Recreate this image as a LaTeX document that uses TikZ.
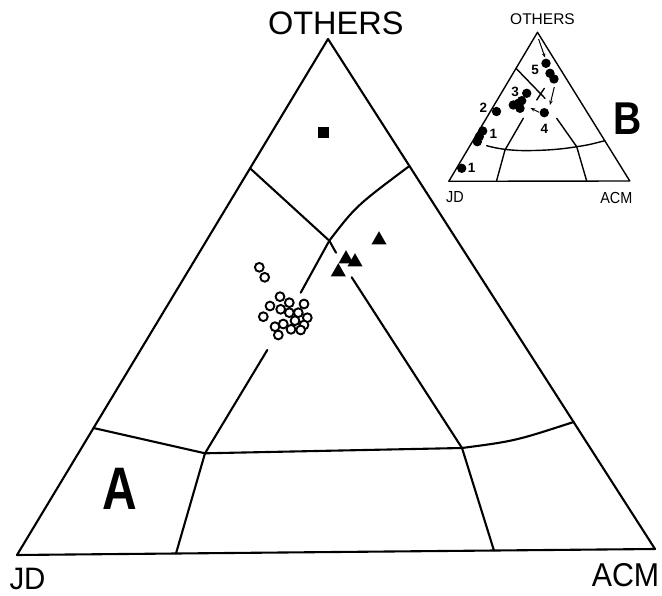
\documentclass[tikz,border=0pt]{standalone}
\usepackage{fontspec}
\setmainfont{Liberation Sans}
\usetikzlibrary{arrows.meta,calc}
\begin{document}
\begin{tikzpicture}[x=1pt,y=-1pt,
  edge/.style={line width=2.1pt, line cap=round, line join=round},
  iedge/.style={line width=1.4pt, line cap=round, line join=round},
  opencirc/.style={draw, line width=1.9pt, fill=white},
  lab/.style={inner sep=0pt},
  iarrow/.style={line width=1pt, -{Stealth[length=4.5pt,width=3.5pt]}}]
\useasboundingbox (0,0) rectangle (662,596);
% ---------- main triangle ----------
\coordinate (JD) at (17,555);
\coordinate (ACM) at (655,549);
\coordinate (OT) at (328,39);
\draw[edge] (JD) -- (OT) -- (ACM) -- cycle;
% points on edges
\coordinate (Lt) at ($(JD)!0.7494!(OT)$);
\coordinate (Lb) at ($(JD)!0.2461!(OT)$);
\coordinate (Rt) at ($(OT)!0.249!(ACM)$);
\coordinate (Rb) at ($(OT)!0.751!(ACM)$);
\coordinate (Bl) at ($(JD)!0.2492!(ACM)$);
\coordinate (Br) at ($(JD)!0.7476!(ACM)$);
% inner junctions
\coordinate (X) at (329.3,240.7);
\coordinate (Jl) at (205,453.3);
\coordinate (Jr) at (462,448);
% boundaries
\draw[edge] (Lt) -- (X) -- (336,252.7);
\draw[edge] (Rt) .. controls (356,206) .. (X) -- (300.7,292.7);
\draw[edge] (267.3,350) -- (Jl);
\draw[edge] (351.7,277.3) -- (Jr);
\draw[edge] (Lb) -- (Jl) -- (Jr);
\draw[edge] (Jr) .. controls (515,441) .. (Rb);
\draw[edge] (Jl) -- (Bl);
\draw[edge] (Jr) -- (Br);
% square
\fill (317.5,127.5) rectangle (328.5,138.5);
% triangles
\foreach \x/\y in {379/238, 346/257, 355/260, 338.3/270}
  \fill (\x-7.6,\y+6.5) -- (\x+7.6,\y+6.5) -- (\x,\y-6.8) -- cycle;
% open circles
\foreach \x/\y in {259.3/267.3, 264.7/277.3,
  280/296.7, 289.3/302.7, 304/304, 270/306, 280.7/309.3, 289.3/312.7,
  298.3/312.7, 307.3/317.7, 263.3/316.7, 295/320.7, 304/325, 275/326.7,
  283.3/324, 291/329.3, 300.7/330, 278.3/335}
  \draw[opencirc] (\x,\y) circle (4.4);
% labels
\node[lab, font=\fontsize{32.5}{34}\selectfont] (tOT) at (335.8,23.3) {OTHERS};
\node[lab, font=\fontsize{31}{33}\selectfont, xscale=0.95] (tJD) at (27.5,579) {JD};
\node[lab, font=\fontsize{33}{35}\selectfont, xscale=0.92] (tACM) at (625.5,575) {ACM};
\node[lab, font=\bfseries\fontsize{60}{62}\selectfont, xscale=0.8] (tA) at (120,488.5) {A};
% ---------- inset B ----------
\coordinate (iJD) at (448.8,181.3);
\coordinate (iACM) at (629.8,181);
\coordinate (iOT) at (537.5,32.3);
\draw[iedge] (iJD) -- (iOT) -- (iACM) -- cycle;
\coordinate (iLt) at ($(iJD)!0.758!(iOT)$);
\coordinate (iRb) at ($(iOT)!0.729!(iACM)$);
\coordinate (iBl) at (496.5,181.1);
\coordinate (iBr) at (586.7,181);
\coordinate (iJl) at (505,150);
\coordinate (iJr) at (576.7,146.7);
\draw[iedge] (iLt) -- (545,98.3);
\draw[iedge] (536.7,100) -- (544.3,88.3);
\draw[iedge] (523.3,118.3) -- (iJl) -- (iBl);
\draw[iedge] (556.7,118.3) -- (iJr) -- (iBr);
\draw[iedge] (486.7,145.7) .. controls (500,149.5) and (515,150.8) .. (528,150.6)
  .. controls (545,150.4) and (560,149.5) .. (iJr) .. controls (588,145) .. (iRb);
% dots
\foreach \x/\y in {461.7/168.3, 477.3/141.7, 479.3/136.7, 482.7/131, 496.5/111.5,
  526.7/93.3, 521.7/100.7, 518.3/103.3, 513.3/105, 520/108.3,
  544.3/112.7, 546/63.3, 550/73.3, 554/79}
  \fill (\x,\y) circle (4.7);
% arrows
\coordinate (a1s) at (538.6,39);
\coordinate (a1e) at (545,57.5);
\coordinate (a2s) at (554.3,87);
\coordinate (a2e) at (550,105);
\coordinate (a3s) at (539,112.3);
\coordinate (a3e) at (530.5,108);
\draw[iarrow] (a1s) -- (a1e);
\draw[iarrow] (a2s) -- (a2e);
\draw[iarrow] (a3s) -- (a3e);
% inset labels
\node[lab, font=\fontsize{15.5}{17}\selectfont] (iOTl) at (542.5,18.7) {OTHERS};
\node[lab, font=\fontsize{16}{17}\selectfont, xscale=0.9] (iJDl) at (455,197.5) {JD};
\node[lab, font=\fontsize{16}{17}\selectfont, xscale=0.9] (iACMl) at (616.3,197.5) {ACM};
\node[lab, font=\bfseries\fontsize{46}{48}\selectfont, xscale=0.85] (tB) at (627.5,118.5) {B};
\foreach \n/\x/\y in {5/535/70, 3/515/91.7, 2/483.3/107.7, 4/544.3/129, 1/493.3/134, 1/471.7/167.5}
  \node[lab, font=\bfseries\fontsize{13.5}{15}\selectfont] at (\x,\y) {\n};
\end{tikzpicture}
\end{document}
